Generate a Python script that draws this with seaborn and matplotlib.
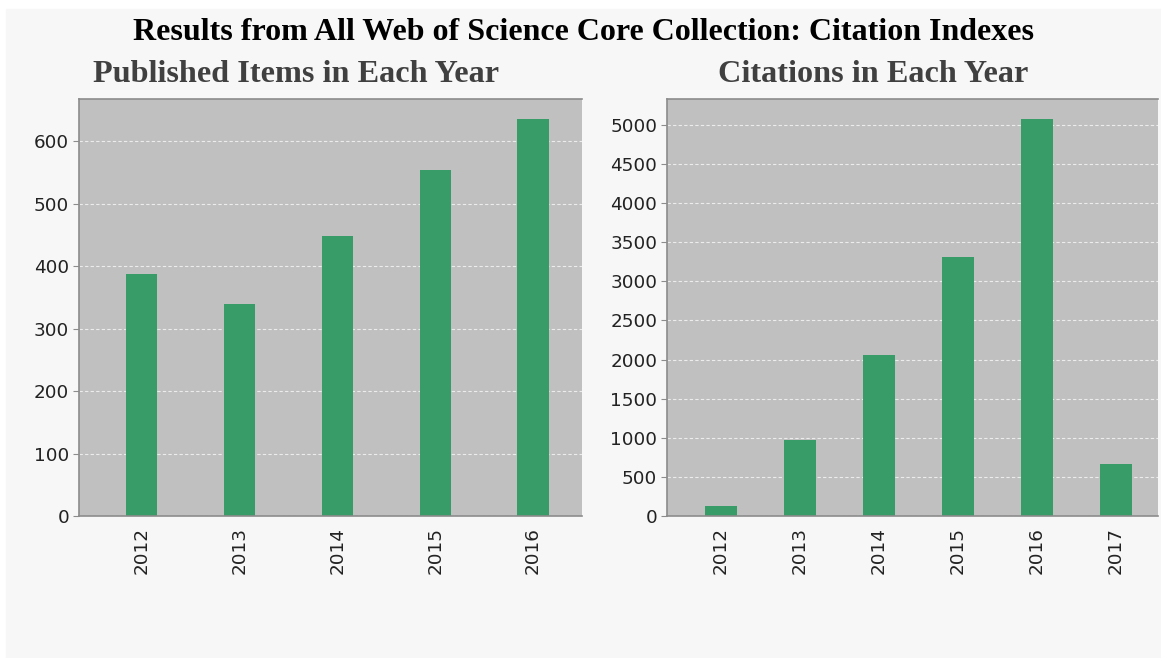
import matplotlib
matplotlib.use("Agg")
import matplotlib.pyplot as plt
import seaborn as sns
import pandas as pd

# Values
pub_years = ["2012", "2013", "2014", "2015", "2016"]
pub_counts = [388, 340, 449, 555, 636]

cit_years = ["2012", "2013", "2014", "2015", "2016", "2017"]
cit_counts = [130, 975, 2055, 3310, 5080, 670]

bar_color = "#389c68"
panel_color = "#c0c0c0"
page_color = "#f7f7f7"

sns.set_style("ticks", {
    "axes.facecolor": panel_color,
    "axes.edgecolor": "#8c8c8c",
})
plt.rcParams["font.family"] = ["DejaVu Sans"]

fig = plt.figure(figsize=(11.61, 6.58), dpi=100, facecolor="white")
# light page background with thin white margin at the top/left
fig.patches.append(plt.Rectangle((6 / 1161, 0), 1, 1 - 9 / 658,
                                 transform=fig.transFigure,
                                 color=page_color, zorder=-10))

ax_pub = fig.add_axes([79 / 1161, 1 - 516 / 658, 503 / 1161, 417 / 658])
ax_cit = fig.add_axes([667 / 1161, 1 - 516 / 658, 491 / 1161, 417 / 658])

pub_df = pd.DataFrame({"year": pub_years, "count": pub_counts})
cit_df = pd.DataFrame({"year": cit_years, "count": cit_counts})


def style_panel(ax, ymax, yticks, xlim):
    ax.set_ylim(0, ymax)
    ax.set_yticks(yticks)
    ax.set_xlim(*xlim)
    ax.set_xlabel("")
    ax.set_ylabel("")
    ax.set_axisbelow(True)
    ax.yaxis.grid(True, color="white", linestyle=(0, (3, 2)), linewidth=0.8, alpha=0.7)
    ax.xaxis.grid(False)
    ax.spines["right"].set_visible(False)
    for s in ["top", "left", "bottom"]:
        ax.spines[s].set_color("#8c8c8c")
        ax.spines[s].set_linewidth(1.2)
    ax.tick_params(axis="y", length=4, width=0.8, color="#8c8c8c",
                   labelsize=13.2, labelcolor="#222222", pad=3)
    ax.tick_params(axis="x", length=0, labelsize=13.2, labelcolor="#222222",
                   rotation=90, pad=8)


sns.barplot(data=pub_df, x="year", y="count", color=bar_color, saturation=1,
            width=0.32, linewidth=0, ax=ax_pub)
style_panel(ax_pub, 668, range(0, 700, 100), (-0.64, 4.5))

sns.barplot(data=cit_df, x="year", y="count", color=bar_color, saturation=1,
            width=0.40, linewidth=0, ax=ax_cit)
style_panel(ax_cit, 5330, range(0, 5500, 500), (-0.68, 5.53))

fig.text(0.503, 1 - 40 / 658,
         "Results from All Web of Science Core Collection: Citation Indexes",
         ha="center", va="baseline", fontsize=23, fontweight="bold",
         family=["Liberation Serif"], color="black")
fig.text(93 / 1161, 1 - 82 / 658, "Published Items in Each Year",
         ha="left", va="baseline", fontsize=23.2, fontweight="bold",
         family=["Liberation Serif"], color="#404040")
fig.text(718 / 1161, 1 - 82 / 658, "Citations in Each Year",
         ha="left", va="baseline", fontsize=23.2, fontweight="bold",
         family=["Liberation Serif"], color="#404040")

fig.savefig("out.png", dpi=100, facecolor=fig.get_facecolor())
